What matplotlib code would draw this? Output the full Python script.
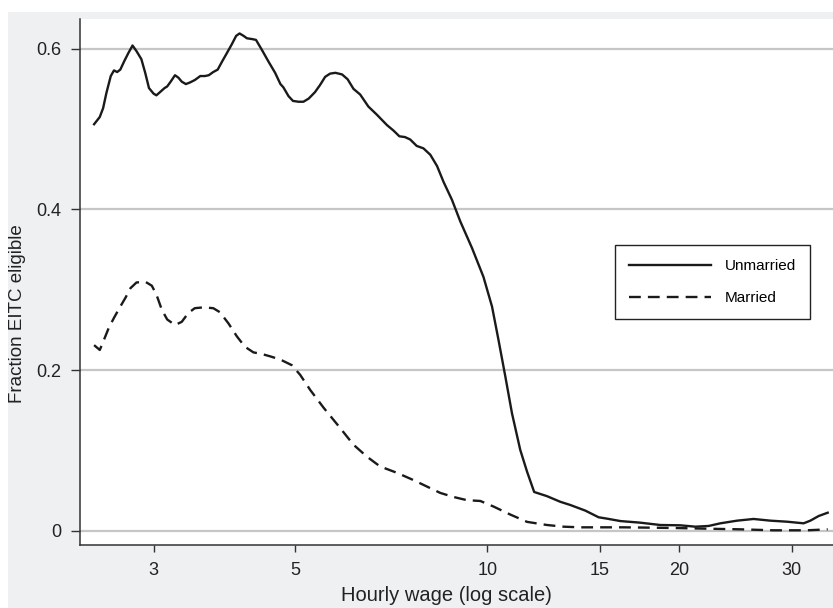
import numpy as np
import matplotlib
matplotlib.use("Agg")
import matplotlib.pyplot as plt
from matplotlib.patches import Rectangle

plt.rcParams['font.family'] = ['Liberation Sans', 'DejaVu Sans']

# hourly wage (dollars) and fraction EITC eligible
wage_unmarried = [2.42, 2.47, 2.50, 2.53, 2.57, 2.60, 2.63, 2.66, 2.70, 2.74, 2.78, 2.82,
                  2.87, 2.91, 2.95, 3.00, 3.03, 3.07, 3.12, 3.15, 3.19, 3.24, 3.28, 3.32,
                  3.37, 3.42, 3.48, 3.55, 3.61, 3.66, 3.72, 3.78, 3.84, 3.91, 3.98, 4.04,
                  4.09, 4.15, 4.20, 4.28, 4.34, 4.43, 4.54, 4.65, 4.74, 4.79, 4.88, 4.96,
                  5.06, 5.15, 5.25, 5.37, 5.47, 5.57, 5.67, 5.78, 5.92, 6.04, 6.17, 6.32,
                  6.51, 6.71, 6.96, 7.13, 7.28, 7.43, 7.57, 7.75, 7.94, 8.14, 8.34, 8.54,
                  8.80, 9.07, 9.46, 9.86, 10.17, 10.41, 10.67, 10.93, 11.26, 11.54, 11.84,
                  12.40, 13.01, 13.49, 14.24, 14.94, 15.40, 16.16, 17.36, 18.66, 20.06,
                  21.18, 22.22, 23.18, 24.62, 26.13, 27.76, 29.49, 31.30, 32.07, 33.05, 34.14]
unmarried = [0.506, 0.515, 0.526, 0.545, 0.566, 0.573, 0.571, 0.574, 0.585, 0.595, 0.604, 0.597,
             0.587, 0.570, 0.551, 0.544, 0.542, 0.546, 0.551, 0.553, 0.559, 0.567, 0.564, 0.559,
             0.556, 0.558, 0.561, 0.566, 0.566, 0.567, 0.571, 0.574, 0.584, 0.595, 0.606, 0.616,
             0.619, 0.616, 0.613, 0.612, 0.611, 0.599, 0.584, 0.570, 0.556, 0.552, 0.541, 0.535,
             0.534, 0.534, 0.538, 0.546, 0.555, 0.565, 0.569, 0.570, 0.568, 0.562, 0.550, 0.543,
             0.528, 0.518, 0.505, 0.498, 0.491, 0.490, 0.487, 0.479, 0.476, 0.468, 0.454, 0.434,
             0.412, 0.385, 0.352, 0.316, 0.279, 0.2375, 0.192, 0.146, 0.1006, 0.0735, 0.0482,
             0.043, 0.036, 0.032, 0.025, 0.0167, 0.015, 0.012, 0.010, 0.0071, 0.0067,
             0.005, 0.0059, 0.0092, 0.0125, 0.0146, 0.0125, 0.0112, 0.0092, 0.0125, 0.0183, 0.0224]

wage_married = [2.42, 2.47, 2.50, 2.55, 2.60, 2.66, 2.71, 2.76, 2.82, 2.91, 2.98, 3.03,
                3.09, 3.15, 3.24, 3.32, 3.40, 3.48, 3.59, 3.72, 3.81, 3.93, 4.05, 4.17,
                4.30, 4.43, 4.57, 4.74, 4.94, 5.09, 5.28, 5.54, 5.85, 6.17, 6.48, 6.79,
                7.22, 7.66, 8.04, 8.44, 8.85, 9.29, 9.75, 10.23, 10.87, 11.54, 12.40, 13.16,
                13.98, 16.35, 19.58, 22.09, 24.92, 28.09, 31.69, 34.14]
married = [0.231, 0.225, 0.235, 0.252, 0.265, 0.279, 0.290, 0.302, 0.309, 0.310, 0.305, 0.294,
           0.275, 0.263, 0.256, 0.260, 0.271, 0.277, 0.278, 0.277, 0.272, 0.258, 0.242, 0.229,
           0.222, 0.220, 0.217, 0.213, 0.206, 0.194, 0.175, 0.153, 0.130, 0.107, 0.092, 0.080,
           0.072, 0.063, 0.055, 0.047, 0.042, 0.038, 0.037, 0.030, 0.020, 0.011, 0.0071, 0.005,
           0.0042, 0.0042, 0.0034, 0.0025, 0.0017, 0.0005, 0.0005, 0.0017]

x_ticks = [3, 5, 10, 15, 20, 30]
y_ticks = [0, 0.2, 0.4, 0.6]
y_ticklabels = ['0', '0.2', '0.4', '0.6']

fig = plt.figure(figsize=(8.33, 6.08), dpi=100, facecolor='white')
# light grey panel behind everything
fig.patches.append(Rectangle((8 / 833, 0), 1, (608 - 12) / 608, transform=fig.transFigure,
                             facecolor='#eef0f2', edgecolor='none', zorder=-10))

ax = fig.add_axes([80 / 833, 63 / 608, 753 / 833, 526 / 608])
ax.set_facecolor('white')

ax.plot(wage_unmarried, unmarried, color='#1a1a1a', lw=1.7, label='Unmarried')
ax.plot(wage_married, married, color='#1a1a1a', lw=1.7, dashes=(5, 3), label='Married')

ax.set_xscale('log')
ax.set_xlim(2.30, 34.8)
ax.set_ylim(-0.0178, 0.637)
ax.set_xticks(x_ticks)
ax.set_xticklabels([str(t) for t in x_ticks])
ax.minorticks_off()
ax.set_yticks(y_ticks)
ax.set_yticklabels(y_ticklabels)

ax.grid(axis='y', color='#c6c6c6', lw=1.6)
ax.set_axisbelow(True)

for s in ['top', 'right']:
    ax.spines[s].set_visible(False)
for s in ['left', 'bottom']:
    ax.spines[s].set_color('#333333')
    ax.spines[s].set_linewidth(1.1)

ax.tick_params(axis='y', direction='out', length=6.5, width=1.0, color='#333333',
               labelsize=13, pad=7, labelcolor='#222222')
ax.tick_params(axis='x', direction='out', length=5, width=1.0, color='#333333',
               labelsize=13, pad=7, labelcolor='#222222')

ax.set_xlabel('Hourly wage (log scale)', fontsize=14.5, color='#222222')
ax.xaxis.set_label_coords(0.487, -0.077)
ax.set_ylabel('Fraction EITC eligible', fontsize=13.5, color='#222222')
ax.yaxis.set_label_coords(-0.072, 0.44)

leg = ax.legend(loc='upper left', bbox_to_anchor=(0.7105, 0.570), fontsize=11,
                handlelength=5.4, handletextpad=0.9, borderpad=0.9, labelspacing=1.2,
                frameon=True, fancybox=False, edgecolor='#222222', facecolor='white',
                framealpha=1.0, borderaxespad=0)
leg.get_frame().set_linewidth(1.0)

fig.savefig('out.png', dpi=100, facecolor=fig.get_facecolor())
